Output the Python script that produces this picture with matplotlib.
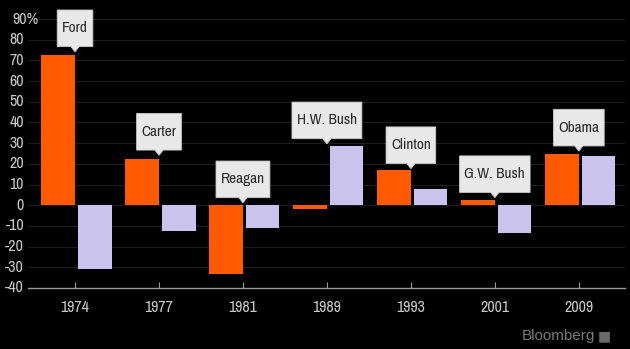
import matplotlib
matplotlib.use("Agg")
import matplotlib.pyplot as plt
from matplotlib.path import Path
import numpy as np

plt.rcParams['font.family'] = ['Archivo Narrow', 'DejaVu Sans']

years = ["1974", "1977", "1981", "1989", "1993", "2001", "2009"]
presidents = ["Ford", "Carter", "Reagan", "H.W. Bush", "Clinton", "G.W. Bush", "Obama"]
first_year = [72.5, 22.5, -33.0, -2.0, 16.8, 2.5, 25.0]
second_year = [-31.0, -12.5, -11.0, 28.5, 8.0, -13.5, 24.0]
label_y = [85.5, 35.5, 12.5, 41.0, 29.0, 15.0, 37.5]
yticks = [90, 80, 70, 60, 50, 40, 30, 20, 10, 0, -10, -20, -30, -40]
ytick_labels = ["90%"] + [str(v) for v in yticks[1:]]

BG = "#000000"
ORANGE = "#ff5a00"
LAV = "#c9c3ee"
TXT = "#c8c8c8"

fig = plt.figure(figsize=(6.3, 3.49), dpi=100, facecolor=BG)
AX_L, AX_R = 28, 625
ax = fig.add_axes([AX_L/630, 61/349, (AX_R-AX_L)/630, (330-61)/349])
ax.set_facecolor(BG)

x = np.arange(len(years))
w = 0.40
ax.bar(x, first_year, width=-w, align='edge', color=ORANGE, zorder=3)
ax.bar(x + 0.035, second_year, width=w, align='edge', color=LAV, zorder=3)

ax.set_xlim(-0.56, 6.55)
ax.set_ylim(-40, 90)
ax.set_yticks(yticks)
ax.set_yticklabels([])
ax.set_xticks(x)
ax.set_xticklabels(years)
ax.grid(axis='y', color="#1c1c1c", linewidth=0.8, zorder=0)
for s in ["top", "right", "left"]:
    ax.spines[s].set_visible(False)
ax.spines["bottom"].set_color("#9a9a9a")
ax.spines["bottom"].set_linewidth(1.0)
ax.tick_params(axis='y', length=0)
ax.tick_params(axis='x', length=4, colors="#9a9a9a", labelcolor=TXT, labelsize=11.5, pad=9,
               direction='in')

# y tick labels, right aligned at x = 24 px (the "%" overhangs)
ytrans = ax.get_yaxis_transform()
xr = (24 - AX_L) / (AX_R - AX_L)
xl = (12 - AX_L) / (AX_R - AX_L)
for v, lab in zip(yticks, ytick_labels):
    if lab.endswith('%'):
        ax.text(xl, v, lab, transform=ytrans, ha='left', va='center', fontsize=11.5,
                color=TXT, clip_on=False)
    else:
        ax.text(xr, v, lab, transform=ytrans, ha='right', va='center', fontsize=11.5,
                color=TXT, clip_on=False)


def callout(x0, y0, width, height, mutation_size):
    padx = 0.32 * mutation_size
    pady = 0.74 * mutation_size
    l, r = x0 - padx, x0 + width + padx
    b, t = y0 - pady, y0 + height + pady
    cx = (l + r) / 2
    tw = 0.27 * mutation_size
    th = 0.34 * mutation_size
    verts = [(l, b), (cx - tw, b), (cx, b - th), (cx + tw, b), (r, b), (r, t), (l, t), (l, b)]
    codes = [Path.MOVETO] + [Path.LINETO] * 6 + [Path.CLOSEPOLY]
    return Path(verts, codes)


for xi, name, ly in zip(x, presidents, label_y):
    ax.text(xi, ly, name, ha='center', va='center', fontsize=11, color="#2a2a2a", zorder=5,
            bbox=dict(boxstyle=callout, fc="#e8e8e8", ec="#c8c8c8", lw=0.6))

fig.text(595/630, 1 - 336/349, "Bloomberg", ha='right', va='center', fontsize=11,
         color="#7a7a7a", family=['Liberation Sans', 'DejaVu Sans'])
fig.text(604/630, 1 - 336/349, "\u25A0", ha='center', va='center', fontsize=10, color="#6a6a6a",
         family=['DejaVu Sans'])

fig.savefig("out.png", dpi=100, facecolor=BG)
